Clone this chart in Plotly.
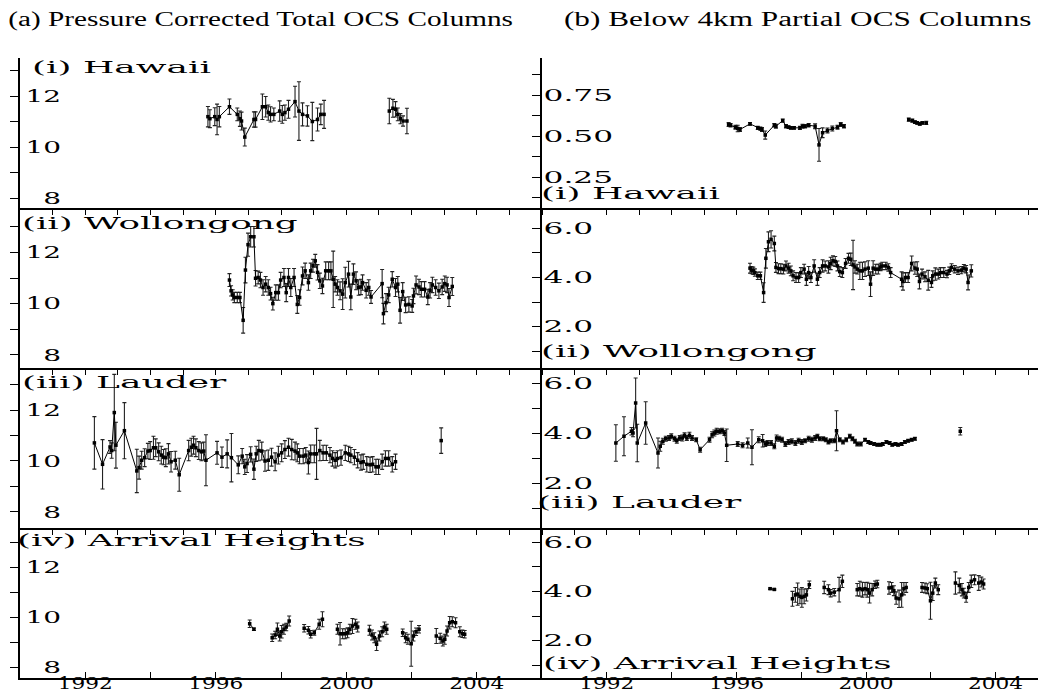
import plotly.graph_objects as go

# ---------------- data (decimal years) ----------------
haw_t = [1995.76, 1995.82, 1995.97, 1996.04, 1996.11, 1996.42, 1996.66, 1996.74, 1996.79, 1996.89,
         1997.17, 1997.22, 1997.43, 1997.53, 1997.61, 1997.68, 1997.78, 1997.96, 1998.04, 1998.12,
         1998.23, 1998.43, 1998.55, 1998.66, 1998.81, 1998.96, 1999.12, 1999.22, 1999.32, None,
         2001.32, 2001.43, 2001.51, 2001.58, 2001.66, 2001.74, 2001.86]
haw_total = [11.19, 11.11, 11.19, 11.08, 11.19, 11.58, 11.28, 11.11, 11.02, 10.39,
             11.08, 11.08, 11.58, 11.58, 11.35, 11.28, 11.28, 11.41, 11.28, 11.35,
             11.48, 11.78, 11.41, 11.28, 11.22, 11.00, 11.08, 11.28, 11.28, None,
             11.41, 11.52, 11.48, 11.28, 11.11, 11.02, 11.02]
haw_total_err = [0.40, 0.35, 0.35, 0.60, 0.40, 0.30, 0.25, 0.30, 0.35, 0.35,
                 0.30, 0.30, 0.50, 0.40, 0.30, 0.30, 0.25, 0.40, 0.35, 0.30,
                 0.35, 0.60, 1.15, 0.45, 0.40, 0.75, 0.45, 0.40, 0.55, 0,
                 0.50, 0.35, 0.30, 0.25, 0.20, 0.20, 0.50]
haw_low = [0.570, 0.566, 0.554, 0.546, 0.540, 0.574, 0.550, 0.545, 0.540, 0.506,
           0.566, 0.560, 0.594, 0.560, 0.554, 0.550, 0.550, 0.550, 0.560, 0.560,
           0.566, 0.560, 0.446, 0.520, 0.534, 0.546, 0.554, 0.570, 0.560, None,
           0.600, 0.594, 0.585, 0.580, 0.574, 0.580, 0.580]
haw_low_err = [0.012, 0.010, 0.012, 0.020, 0.012, 0.008, 0.010, 0.010, 0.012, 0.025,
               0.010, 0.012, 0.010, 0.010, 0.008, 0.008, 0.008, 0.010, 0.012, 0.010,
               0.010, 0.015, 0.100, 0.030, 0.015, 0.015, 0.012, 0.012, 0.010, 0,
               0.010, 0.010, 0.008, 0.008, 0.008, 0.008, 0.010]

wol_t = [1996.42, 1996.47, 1996.52, 1996.57, 1996.66, 1996.74, 1996.84, 1996.91, 1996.99, 1997.07,
         1997.17, 1997.22, 1997.30, 1997.37, 1997.45, 1997.53, 1997.61, 1997.68, 1997.75, 1997.84,
         1997.92, 1997.99, 1998.09, 1998.16, 1998.23, 1998.30, 1998.40, 1998.50, 1998.57, 1998.66,
         1998.74, 1998.84, 1998.91, 1998.98, 1999.05, 1999.12, 1999.19, 1999.27, 1999.37, 1999.46,
         1999.53, 1999.60, 1999.66, 1999.73, 1999.81, 1999.89, 1999.97, 2000.07, 2000.14, 2000.22,
         2000.30, 2000.38, 2000.45, 2000.50, 2000.61, 2000.69, 2000.76, 2001.10, 2001.14, 2001.22,
         2001.30, 2001.41, 2001.51, 2001.58, 2001.65, 2001.73, 2001.82, 2001.92, 2002.02, 2002.06,
         2002.14, 2002.23, 2002.30, 2002.40, 2002.50, 2002.57, 2002.64, 2002.74, 2002.84, 2002.94,
         2003.02, 2003.09, 2003.15, 2003.25]
wol_total = [10.92, 10.50, 10.34, 10.24, 10.24, 10.24, 9.35, 11.31, 12.30, 12.61,
             12.61, 10.99, 11.02, 10.92, 10.63, 10.76, 10.63, 10.39, 10.00, 10.43,
             10.43, 10.92, 11.02, 10.43, 11.02, 10.63, 11.02, 9.97, 10.24, 11.08,
             11.28, 10.82, 11.28, 11.48, 11.67, 11.22, 10.89, 10.69, 11.28, 11.28,
             11.28, 10.95, 10.76, 10.63, 10.50, 10.37, 10.82, 11.15, 10.26, 11.15,
             10.89, 10.63, 10.65, 10.82, 10.52, 10.63, 10.26, 10.78, 9.61, 10.04,
             10.34, 10.95, 10.63, 10.76, 9.74, 10.47, 9.95, 9.97, 9.91, 10.30,
             10.73, 10.65, 10.56, 10.56, 10.26, 10.52, 10.73, 10.63, 10.50, 10.65,
             10.78, 10.73, 10.24, 10.67]
wol_total_err = [0.25, 0.20, 0.20, 0.20, 0.20, 0.20, 0.50, 0.50, 0.45, 0.40,
                 0.40, 0.30, 0.25, 0.30, 0.30, 0.30, 0.30, 0.25, 0.25, 0.30,
                 0.30, 0.30, 0.35, 0.35, 0.35, 0.35, 0.35, 0.35, 0.30, 0.35,
                 0.30, 0.30, 0.30, 0.25, 0.25, 0.30, 0.30, 0.30, 0.35, 0.35,
                 0.35, 1.10, 0.30, 0.30, 0.35, 0.60, 0.60, 0.50, 0.50, 0.40,
                 0.35, 0.30, 0.30, 0.30, 0.30, 0.30, 0.25, 0.55, 0.40, 0.35,
                 0.30, 0.30, 0.35, 0.30, 0.50, 0.35, 0.30, 0.30, 0.25, 0.30,
                 0.35, 0.30, 0.30, 0.30, 0.30, 0.30, 0.30, 0.30, 0.30, 0.30,
                 0.30, 0.30, 0.35, 0.35]
wol_low = [4.38, 4.30, 4.27, 4.20, 4.07, 4.07, 3.39, 4.78, 5.45, 5.55,
           5.38, 4.41, 4.36, 4.36, 4.34, 4.47, 4.38, 4.27, 4.07, 4.00,
           4.00, 4.20, 4.34, 3.93, 4.20, 4.00, 4.47, 3.93, 4.20, 4.47,
           4.47, 4.43, 4.57, 4.68, 4.65, 4.47, 4.24, 4.20, 4.57, 4.78,
           4.74, 4.51, 4.43, 4.34, 4.27, 4.27, 4.34, 4.38, 3.73, 4.38,
           4.34, 4.34, 4.43, 4.47, 4.47, 4.41, 4.20, 3.93, 3.84, 4.00,
           4.00, 4.57, 4.38, 4.34, 3.84, 4.14, 4.03, 3.89, 3.80, 4.07,
           4.14, 4.14, 4.20, 4.20, 4.14, 4.27, 4.41, 4.34, 4.27, 4.30,
           4.38, 4.34, 3.80, 4.27]
wol_low_err = [0.20, 0.15, 0.15, 0.15, 0.15, 0.15, 0.40, 0.40, 0.40, 0.35,
               0.30, 0.20, 0.20, 0.20, 0.20, 0.20, 0.20, 0.20, 0.20, 0.20,
               0.20, 0.20, 0.20, 0.25, 0.25, 0.20, 0.25, 0.25, 0.20, 0.25,
               0.20, 0.25, 0.25, 0.20, 0.20, 0.20, 0.20, 0.20, 0.20, 0.20,
               0.25, 1.00, 0.25, 0.20, 0.35, 0.35, 0.30, 0.30, 0.50, 0.30,
               0.20, 0.20, 0.15, 0.15, 0.15, 0.15, 0.20, 0.30, 0.35, 0.20,
               0.20, 0.30, 0.25, 0.30, 0.30, 0.20, 0.20, 0.40, 0.20, 0.20,
               0.25, 0.20, 0.20, 0.20, 0.15, 0.15, 0.15, 0.15, 0.15, 0.15,
               0.15, 0.15, 0.30, 0.25]

lau_t = [1992.28, 1992.53, 1992.76, 1992.81, 1992.89, 1992.94, 1993.20, 1993.58, 1993.65, 1993.73,
         1993.82, 1993.92, 1993.99, 1994.09, 1994.16, 1994.25, 1994.33, 1994.40, 1994.47, 1994.55,
         1994.63, 1994.76, 1994.88, 1995.17, 1995.25, 1995.32, 1995.39, 1995.48, 1995.56, 1995.63,
         1995.70, 1996.04, 1996.19, 1996.35, 1996.48, 1996.69, 1996.81, 1996.89, 1996.96, 1997.07,
         1997.17, 1997.24, 1997.32, 1997.41, 1997.51, 1997.61, 1997.71, 1997.82, 1997.92, 1998.02,
         1998.12, 1998.23, 1998.33, 1998.43, 1998.50, 1998.57, 1998.68, 1998.76, 1998.84, 1998.91,
         1999.02, 1999.09, 1999.19, 1999.29, 1999.39, 1999.50, 1999.58, 1999.66, 1999.73, 1999.84,
         1999.97, 2000.07, 2000.14, 2000.25, 2000.35, 2000.45, 2000.52, 2000.63, 2000.73, 2000.81,
         2000.91, 2000.99, 2001.10, 2001.20, 2001.30, 2001.41, 2001.51, None, 2002.91]
lau_total = [10.71, 9.87, 10.55, 10.41, 11.90, 10.62, 11.19, 9.61, 9.74, 10.03,
             10.13, 10.39, 10.41, 10.52, 10.52, 10.36, 10.23, 10.15, 10.13, 10.28,
             9.97, 10.03, 9.46, 10.41, 10.54, 10.62, 10.52, 10.41, 10.36, 10.39,
             10.03, 10.32, 10.15, 10.28, 10.13, 9.85, 10.19, 9.77, 9.90, 10.26,
             9.68, 10.28, 10.41, 10.39, 10.00, 10.03, 10.15, 9.97, 10.23, 10.32,
             10.45, 10.54, 10.45, 10.39, 10.32, 10.19, 10.19, 10.23, 9.94, 10.28,
             10.28, 10.28, 10.41, 10.32, 10.32, 10.23, 10.10, 10.03, 10.10, 10.13,
             10.32, 10.28, 10.23, 10.15, 10.03, 9.94, 9.97, 9.87, 9.85, 9.87,
             9.77, 9.77, 9.97, 10.10, 10.10, 9.87, 9.97, None, 10.80]
lau_total_err = [1.03, 0.97, 0.25, 0.30, 1.50, 0.90, 1.10, 0.85, 0.45, 0.35,
                 0.35, 0.30, 0.35, 0.45, 0.35, 0.35, 0.35, 0.30, 0.35, 0.40,
                 0.40, 0.35, 0.65, 0.40, 0.35, 0.35, 0.35, 0.35, 0.35, 0.35,
                 1.00, 0.45, 0.40, 0.55, 0.95, 0.35, 0.30, 0.30, 0.35, 0.30,
                 0.40, 0.30, 0.40, 0.35, 0.40, 0.40, 0.35, 0.35, 0.35, 0.35,
                 0.35, 0.35, 0.40, 0.35, 0.35, 0.30, 0.30, 0.30, 0.45, 0.35,
                 0.35, 1.00, 0.40, 0.30, 0.30, 0.30, 0.30, 0.30, 0.30, 0.30,
                 0.30, 0.30, 0.30, 0.30, 0.30, 0.30, 0.30, 0.30, 0.30, 0.30,
                 0.30, 0.30, 0.30, 0.30, 0.30, 0.30, 0.30, 0, 0.50]
lau_low = [3.60, 3.87, 4.07, 4.00, 5.20, 3.60, 4.40, 3.20, 3.47, 3.67,
           3.77, 3.80, 3.87, 3.77, 3.69, 3.80, 3.80, 3.91, 3.80, 3.91,
           3.80, 3.73, 3.33, 3.73, 3.93, 4.00, 4.07, 4.07, 4.09, 4.00,
           3.51, 3.56, 3.51, 3.60, 3.43, 3.73, 3.69, 3.56, 3.60, 3.60,
           3.47, 3.80, 3.77, 3.73, 3.56, 3.64, 3.67, 3.60, 3.69, 3.64,
           3.69, 3.77, 3.73, 3.80, 3.87, 3.77, 3.77, 3.73, 3.64, 3.69,
           3.69, 4.09, 3.73, 3.64, 3.73, 3.87, 3.77, 3.67, 3.56, 3.56,
           3.73, 3.64, 3.60, 3.56, 3.53, 3.53, 3.56, 3.64, 3.60, 3.53,
           3.56, 3.53, 3.56, 3.64, 3.69, 3.73, 3.77, None, 4.07]
lau_low_err = [0.73, 0.78, 0.15, 0.15, 1.00, 0.75, 0.85, 0.60, 0.20, 0.12,
               0.10, 0.10, 0.10, 0.10, 0.10, 0.10, 0.12, 0.10, 0.10, 0.12,
               0.10, 0.08, 0.10, 0.10, 0.12, 0.12, 0.12, 0.10, 0.10, 0.10,
               0.65, 0.10, 0.10, 0.20, 0.70, 0.12, 0.25, 0.10, 0.10, 0.10,
               0.10, 0.12, 0.10, 0.10, 0.10, 0.10, 0.10, 0.10, 0.10, 0.10,
               0.08, 0.10, 0.10, 0.10, 0.08, 0.08, 0.08, 0.08, 0.08, 0.08,
               0.08, 0.80, 0.08, 0.08, 0.08, 0.08, 0.08, 0.08, 0.08, 0.08,
               0.06, 0.06, 0.06, 0.06, 0.06, 0.06, 0.06, 0.06, 0.06, 0.06,
               0.06, 0.06, 0.06, 0.06, 0.06, 0.06, 0.06, 0, 0.15]

ah_t = [1997.04, 1997.17, None,
        1997.73, 1997.82, 1997.89, 1997.96, 1998.02, 1998.09, 1998.16, 1998.25, None,
        1998.71, 1998.84, 1998.91, 1999.02, 1999.17, 1999.27, None,
        1999.73, 1999.81, 1999.89, 1999.97, 2000.04, 2000.11, 2000.19, 2000.28, 2000.35, None,
        2000.71, 2000.79, 2000.86, 2000.93, 2001.02, 2001.10, 2001.17, 2001.24, None,
        2001.73, 2001.82, 2001.89, 2001.99, 2002.06, 2002.14, 2002.23, None,
        2002.76, 2002.88, 2002.96, 2003.02, 2003.09, 2003.17, 2003.25, 2003.35, None,
        2003.48, 2003.56, 2003.63]
ah_total = [9.73, 9.51, None,
            9.17, 9.28, 9.51, 9.24, 9.41, 9.51, 9.60, 9.84, None,
            9.55, 9.47, 9.31, 9.37, 9.71, 9.91, None,
            9.51, 9.33, 9.33, 9.33, 9.37, 9.51, 9.64, 9.71, 9.60, None,
            9.47, 9.28, 9.17, 8.91, 9.24, 9.41, 9.60, 9.51, None,
            9.37, 9.17, 9.11, 8.93, 9.24, 9.41, 9.51, None,
            9.24, 9.15, 9.04, 9.11, 9.44, 9.77, 9.81, 9.77, None,
            9.41, 9.33, 9.31]
ah_total_err = [0.15, 0.05, 0,
                0.15, 0.15, 0.25, 0.20, 0.25, 0.20, 0.15, 0.20, 0,
                0.15, 0.15, 0.15, 0.10, 0.20, 0.30, 0,
                0.20, 0.45, 0.20, 0.20, 0.20, 0.20, 0.30, 0.20, 0.20, 0,
                0.20, 0.20, 0.20, 0.25, 0.20, 0.20, 0.20, 0.20, 0,
                0.15, 0.20, 0.20, 0.90, 0.20, 0.15, 0.15, 0,
                0.30, 0.20, 0.20, 0.20, 0.20, 0.25, 0.20, 0.20, 0,
                0.20, 0.15, 0.15]
ah_low = [4.11, 4.08, None,
          3.70, 3.86, 3.89, 3.80, 3.76, 3.80, 3.86, 4.27, None,
          4.16, 4.07, 3.93, 3.97, 4.07, 4.41, None,
          4.07, 4.11, 4.07, 4.11, 4.07, 3.93, 4.07, 4.27, 4.30, None,
          4.14, 4.16, 4.03, 3.73, 3.70, 3.86, 4.11, 4.16, None,
          4.16, 4.14, 4.11, 3.62, 3.93, 4.34, 4.07, None,
          4.34, 4.24, 4.07, 3.93, 3.76, 4.16, 4.41, 4.47, None,
          4.34, 4.38, 4.30]
ah_low_err = [0.03, 0.03, 0,
              0.30, 0.30, 0.45, 0.30, 0.40, 0.30, 0.25, 0.15, 0,
              0.25, 0.20, 0.15, 0.15, 0.50, 0.25, 0,
              0.25, 0.30, 0.30, 0.25, 0.30, 0.40, 0.25, 0.15, 0.15, 0,
              0.25, 0.20, 0.20, 0.25, 0.35, 0.50, 0.25, 0.20, 0,
              0.20, 0.20, 0.20, 0.75, 0.30, 0.20, 0.20, 0,
              0.45, 0.30, 0.25, 0.20, 0.20, 0.20, 0.25, 0.20, 0,
              0.30, 0.20, 0.20]

station_labels = ["(i) Hawaii", "(ii) Wollongong", "(iii) Lauder", "(iv) Arrival Heights"]
titles = ["(a) Pressure Corrected Total OCS Columns", "(b) Below 4km Partial OCS Columns"]
year_ticks = [1990, 1992, 1994, 1996, 1998, 2000, 2002, 2004, 2006]
year_text = ["", "1992", "", "1996", "", "2000", "", "2004", ""]

total_series = [(haw_t, haw_total, haw_total_err), (wol_t, wol_total, wol_total_err),
                (lau_t, lau_total, lau_total_err), (ah_t, ah_total, ah_total_err)]
low_series = [(haw_t, haw_low, haw_low_err), (wol_t, wol_low, wol_low_err),
              (lau_t, lau_low, lau_low_err), (ah_t, ah_low, ah_low_err)]
for t, v, e in total_series + low_series:
    assert len(t) == len(v) == len(e)

# ---------------- layout geometry ----------------
W, H = 1046, 693
row_px = [(50, 200), (200, 360), (360, 520), (520, 670)]
left_ranges = [(7.61, 13.49), (7.49, 13.73), (7.37, 13.65), (7.56, 13.56)]
right_ranges = [(0.061, 0.976), (0.33, 6.82), (0.20, 6.60), (0.49, 6.57)]
left_xdom = [12 / W, 534 / W]
right_xdom = [534 / W, 1.0]

TICKFONT = dict(family="DejaVu Serif", size=16, color="black")
LABELFONT = dict(family="DejaVu Serif", size=17, color="black")
fig = go.Figure()

def yd(r):
    return [1 - row_px[r][1] / H, 1 - row_px[r][0] / H]

for col in range(2):
    for r in range(4):
        k = col * 4 + r + 1
        t, v, e = (total_series if col == 0 else low_series)[r]
        fig.add_trace(go.Scatter(
            x=t, y=v, mode="lines+markers", xaxis=f"x{k}", yaxis=f"y{k}",
            line=dict(color="black", width=1),
            marker=dict(color="black", size=3.5, symbol="square"),
            error_y=dict(type="data", array=e, visible=True, color="#222222",
                         thickness=1.1, width=2),
            showlegend=False, connectgaps=False))
        bottom = (r == 3)
        xa = dict(domain=left_xdom if col == 0 else right_xdom,
                  range=[1990, 2006] if col == 0 else [1990, 1990 + 512 / 32.4],
                  anchor=f"y{k}", showgrid=False, zeroline=False,
                  showline=True, linecolor="black", linewidth=1.5)
        if bottom:
            xa.update(tickmode="array", tickvals=year_ticks, ticktext=year_text,
                      ticks="inside", ticklen=6, tickcolor="black",
                      tickfont=TICKFONT, showticklabels=True, ticklabelstandoff=-10)
        else:
            xa.update(tickmode="linear", tick0=1990, dtick=1, ticks="outside",
                      ticklen=5, tickcolor="black", showticklabels=False)
        ya = dict(domain=yd(r), anchor=f"x{k}", showgrid=False, zeroline=False,
                  showline=True, linecolor="black", linewidth=1.5,
                  ticks="outside", ticklen=8, tickcolor="black",
                  ticklabelposition="inside", tickfont=TICKFONT)
        if col == 0:
            ya.update(range=list(left_ranges[r]), tickmode="array",
                      tickvals=[8, 9, 10, 11, 12, 13],
                      ticktext=["\u20078", "", "10", "", "12", ""],
                      ticklabelstandoff=6)
        else:
            ya.update(range=list(right_ranges[r]), ticklabelstandoff=2)
            if r == 0:
                ya.update(tickmode="array",
                          tickvals=[0.125, 0.25, 0.375, 0.5, 0.625, 0.75, 0.875],
                          ticktext=["", "0.25", "", "0.50", "", "0.75", ""])
            else:
                ya.update(tickmode="array", tickvals=[1, 2, 3, 4, 5, 6],
                          ticktext=["", "2.0", "", "4.0", "", "6.0"])
        fig.layout[f"xaxis{k}"] = xa
        fig.layout[f"yaxis{k}"] = ya

annotations = []
for cx, txt in [(253, titles[0]), (790, titles[1])]:
    annotations.append(dict(text=txt, x=cx / W, y=1 - 12 / H, xref="paper", yref="paper",
                            xanchor="center", yanchor="middle", showarrow=False,
                            font=dict(family="Liberation Serif", size=20, color="black")))
left_lab_pos = [(22, 59), (12, 215), (12, 374), (7, 532)]
right_lab_pos = [(531, 185), (531, 343), (527, 494), (533, 655)]
for r in range(4):
    for (px, py) in (left_lab_pos[r], right_lab_pos[r]):
        annotations.append(dict(text=station_labels[r], x=px / W, y=1 - py / H,
                                xref="paper", yref="paper", xanchor="left",
                                yanchor="middle", showarrow=False, font=LABELFONT))

fig.update_layout(width=W, height=H, margin=dict(l=0, r=0, t=0, b=0),
                  paper_bgcolor="white", plot_bgcolor="white",
                  annotations=annotations, showlegend=False)

# The reference uses a very wide (extended) serif face; widen the real SVG text
# horizontally with textLength so the glyph proportions match.
stretch_js = """
(function(){
  function stretch(el, f, mode){
    if (!el || el.getAttribute('data-stretched')) return;
    var b0 = el.getBBox();
    if (!b0.width) return;
    el.setAttribute('textLength', (b0.width * f).toFixed(1));
    el.setAttribute('lengthAdjust', 'spacingAndGlyphs');
    el.setAttribute('data-stretched', '1');
    var b1 = el.getBBox();
    var dx = 0;
    if (mode === 'left') dx = b0.x - b1.x;
    else if (mode === 'center') dx = (b0.x + b0.width / 2) - (b1.x + b1.width / 2);
    if (Math.abs(dx) > 0.01) {
      var x = parseFloat(el.getAttribute('x') || 0);
      el.setAttribute('x', (x + dx).toFixed(2));
    }
  }
  function run(){
    document.querySelectorAll('g').forEach(function(g){
      var cls = g.getAttribute('class') || '';
      var m = /^(x|y)(\\d*)tick$/.exec(cls);
      if (!m) return;
      var el = g.querySelector('text');
      if (!el) return;
      var n = m[2] ? parseInt(m[2], 10) : 1;
      if (m[1] === 'y') stretch(el, n >= 5 ? 1.95 : 1.75, 'left');
      else stretch(el, 1.35, 'center');
    });
    document.querySelectorAll('g.annotation').forEach(function(g){
      var t = g.querySelector('text.annotation-text');
      if (!t) return;
      var s = t.textContent;
      if (s.indexOf('(a)') === 0) stretch(t, 1.46, 'center');
      else if (s.indexOf('(b)') === 0) stretch(t, 1.56, 'center');
      else stretch(t, 2.1, 'left');
    });
  }
  run();
  var gd = document.querySelector('.plotly-graph-div');
  if (gd && gd.on) gd.on('plotly_afterplot', run);
  setTimeout(run, 30);
  setTimeout(run, 200);
  setTimeout(run, 600);
})();
"""

fig.write_html("out.html", post_script=stretch_js)
